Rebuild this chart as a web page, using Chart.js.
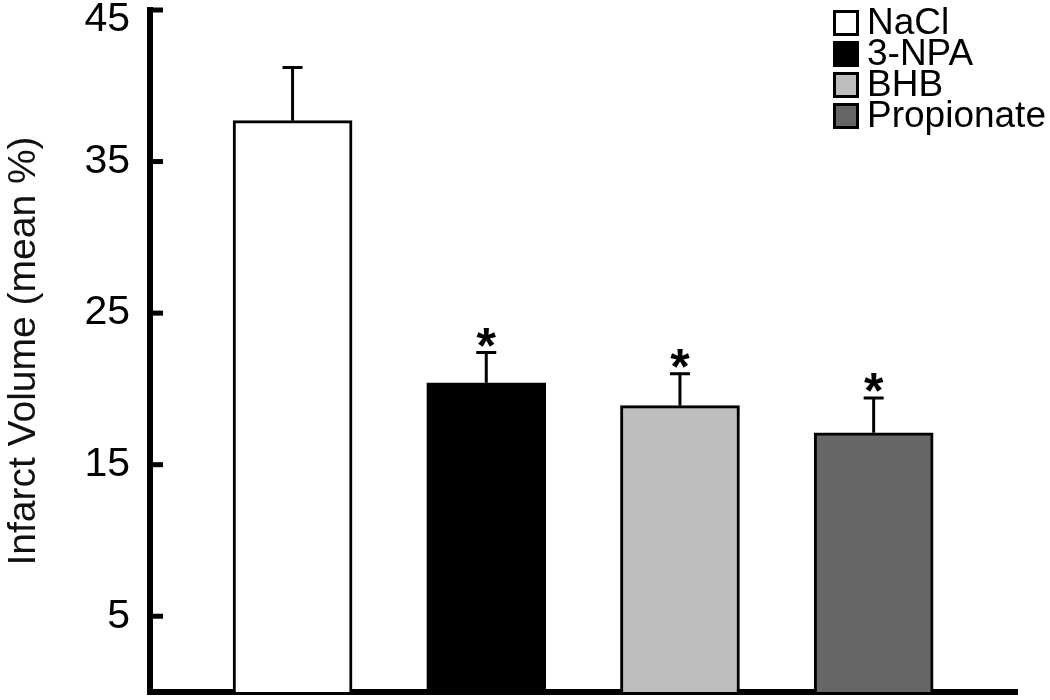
<!DOCTYPE html>
<html>
<head>
<meta charset="utf-8">
<script src="https://cdn.jsdelivr.net/npm/chart.js@4/dist/chart.umd.min.js"></script>
<style>
  html, body { margin: 0; padding: 0; background: #ffffff; }
  #wrap { width: 1050px; height: 700px; position: relative; }
</style>
</head>
<body>
<div id="wrap"><canvas id="c"></canvas></div>
<script>
const groups = ['NaCl', '3-NPA', 'BHB', 'Propionate'];
const means = [37.7, 20.4, 18.9, 17.1];
const errors = [3.5, 2.0, 2.1, 2.3];
const significant = [false, true, true, true];
const fills = ['#ffffff', '#000000', '#bebebe', '#666666'];
const yTicks = [5, 15, 25, 35, 45];
const yTitle = 'Infarct Volume (mean %)';

const FONT = "'Liberation Sans', Arial, sans-serif";
const TICK_SIZE = 41;
const topTick = yTicks[yTicks.length - 1];

const points = groups.map((g, i) => ({ x: i, y: means[i] }));

const decorations = {
  id: 'decorations',
  afterDatasetsDraw(chart) {
    const ctx = chart.ctx;
    const ys = chart.scales.y;
    const meta = chart.getDatasetMeta(0);
    ctx.save();
    ctx.strokeStyle = '#000';
    ctx.fillStyle = '#000';
    ctx.lineWidth = 3;
    meta.data.forEach((bar, i) => {
      const top = ys.getPixelForValue(means[i]);
      const cap = ys.getPixelForValue(means[i] + errors[i]);
      ctx.beginPath();
      ctx.moveTo(bar.x, top);
      ctx.lineTo(bar.x, cap);
      ctx.moveTo(bar.x - 10, cap);
      ctx.lineTo(bar.x + 10, cap);
      ctx.stroke();
      if (significant[i]) {
        const size = 50;
        ctx.font = 'bold ' + size + 'px ' + FONT;
        ctx.textAlign = 'center';
        ctx.textBaseline = 'alphabetic';
        ctx.fillText('*', bar.x, cap - 18 + 0.56 * size);
      }
    });
    ctx.restore();
  },
  afterDraw(chart) {
    const ctx = chart.ctx;
    const ys = chart.scales.y;
    const area = chart.chartArea;
    ctx.save();
    // inward tick stubs
    ctx.strokeStyle = '#000';
    ctx.lineWidth = 5;
    yTicks.forEach(v => {
      const y = ys.getPixelForValue(v);
      ctx.beginPath();
      ctx.moveTo(area.left, y);
      ctx.lineTo(area.left + 13, y);
      ctx.stroke();
    });
    // top tick label, kept inside the canvas
    ctx.fillStyle = '#000';
    ctx.font = TICK_SIZE + 'px ' + FONT;
    ctx.textAlign = 'right';
    ctx.textBaseline = 'middle';
    ctx.fillText(String(topTick), area.left - 20, Math.max(ys.getPixelForValue(topTick), 20));
    // legend
    const bx = 833, size = 26, cy0 = 23, step = 31;
    groups.forEach((g, i) => {
      const cy = cy0 + i * step;
      ctx.fillStyle = fills[i];
      ctx.fillRect(bx, cy - size / 2, size, size);
      ctx.lineWidth = 3;
      ctx.strokeStyle = '#000';
      ctx.strokeRect(bx + 1.5, cy - size / 2 + 1.5, size - 3, size - 3);
      ctx.fillStyle = '#000';
      ctx.font = '37px ' + FONT;
      ctx.textAlign = 'left';
      ctx.textBaseline = 'middle';
      ctx.fillText(g, 867, cy + 1);
    });
    ctx.restore();
  }
};

new Chart(document.getElementById('c'), {
  type: 'bar',
  data: {
    datasets: [{
      data: points,
      backgroundColor: fills,
      borderColor: '#000000',
      borderWidth: 3,
      barThickness: 119
    }]
  },
  options: {
    responsive: true,
    maintainAspectRatio: false,
    animation: false,
    layout: { padding: { top: 10, right: 33, bottom: 8, left: 0 } },
    plugins: { legend: { display: false }, tooltip: { enabled: false } },
    scales: {
      x: {
        type: 'linear',
        min: -0.736,
        max: 3.74,
        offset: false,
        z: 1,
        ticks: { display: false },
        grid: { display: true, offset: false, drawOnChartArea: false, drawTicks: false },
        border: { display: true, color: '#000', width: 6 },
        afterFit(s) { s.height = 0; s.paddingLeft = 0; s.paddingRight = 0; }
      },
      y: {
        type: 'linear',
        min: 0,
        max: 45,
        z: 1,
        afterBuildTicks(s) { s.ticks = yTicks.map(v => ({ value: v })); },
        ticks: {
          color: '#000',
          font: { family: FONT, size: TICK_SIZE },
          padding: 20,
          callback: v => (v === topTick ? '' : String(v))
        },
        grid: { display: true, drawOnChartArea: false, drawTicks: false },
        border: { display: true, color: '#000', width: 6 },
        title: {
          display: true,
          text: yTitle,
          color: '#111',
          font: { family: FONT, size: 39 },
          padding: { top: 1, bottom: 0 }
        },
        afterFit(s) { s.width = 150; s.paddingTop = 0; s.paddingBottom = 0; }
      }
    }
  },
  plugins: [decorations]
});
</script>
</body>
</html>
